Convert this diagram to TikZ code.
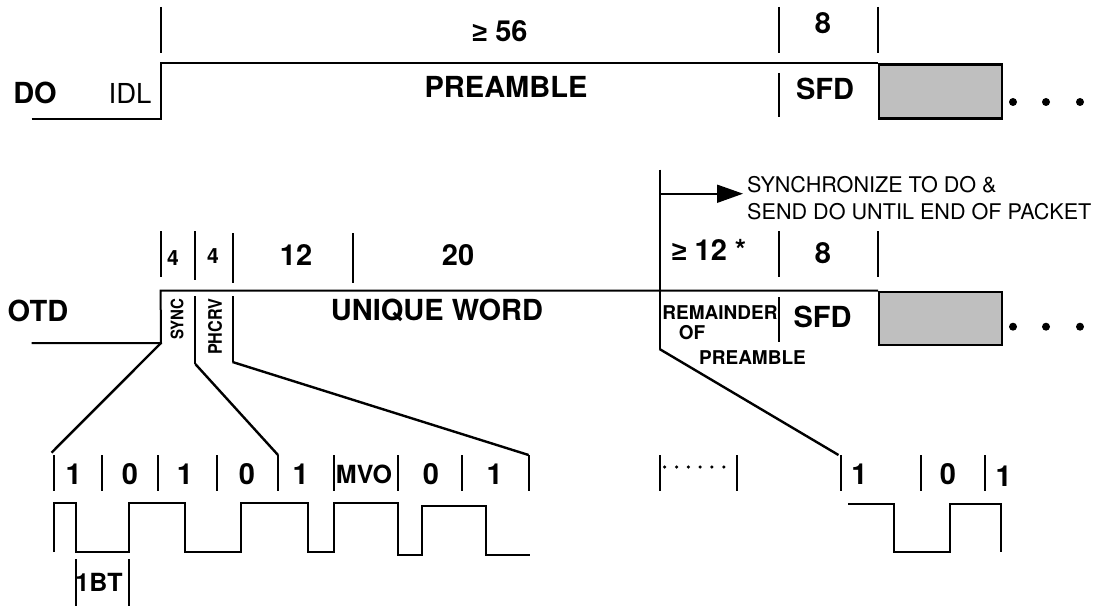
\documentclass[tikz,border=0pt]{standalone}
\usepackage{fontspec}
\setmainfont{TeX Gyre Heros}
\newfontfamily\symf{Liberation Sans}
\newcommand{\fs}[1]{\fontsize{#1}{#1}\selectfont}
\newcommand{\gee}{{\symf\bfseries\fs{27}≥}}
\tikzset{
 ln/.style={line width=2pt,black},
 diag/.style={line width=2.4pt,black},
 big/.style={font=\fs{29}\bfseries,inner sep=0pt,text=black},
 mid/.style={font=\fs{25}\bfseries,inner sep=0pt,text=black},
 small/.style={font=\fs{19}\bfseries,inner sep=0pt,text=black},
 digit/.style={font=\fs{21}\bfseries,inner sep=0pt,text=black},
 plain/.style={font=\fs{21.6},inner sep=0pt,text=black,anchor=west},
 packet/.style={draw=black,line width=2.4pt,fill=black!25!white,inner sep=0pt,minimum width=123pt,anchor=north west},
 dotm/.style={circle,fill=black,inner sep=0pt,minimum size=8pt},
 tiny dot/.style={circle,fill=black,inner sep=0pt,minimum size=3.5pt},
}
\begin{document}
\begin{tikzpicture}[x=1pt,y=-1pt]
\useasboundingbox (0,0) rectangle (1095,607);
% DO row
\draw[ln] (160.6,7) -- (160.6,53.5);
\draw[ln] (779,7) -- (779,53.5);
\draw[ln] (878,7) -- (878,53.5);
\draw[ln] (31.5,119) -- (160.6,119) -- (160.6,63) -- (878,63);
\draw[ln] (779,73) -- (779,117);
\node[packet,minimum height=54pt] (gray1) at (878,63.5) {};
\node[dotm] (d1) at (1013,102) {};
\node[dotm] (d2) at (1046,102) {};
\node[dotm] (d3) at (1080,102) {};
\node[big] (ge56) at (500,31) {\gee\ 56};
\node[big] (eight1) at (823,23) {8};
\node[big] (do) at (35,92.5) {DO};
\node[font=\fs{27.5},inner sep=0pt] (idl) at (130,93) {IDL};
\node[big] (pre1) at (506,87) {PREAMBLE};
\node[big] (sfd1) at (825,89) {SFD};
% sync annotation
\coordinate (synctop) at (659.5,169.5);
\coordinate (syncbot) at (659.5,349);
\draw[ln] (synctop) -- (syncbot);
\node[plain] (s1) at (747,185) {SYNCHRONIZE TO DO \&};
\node[plain] (s2) at (747,212) {SEND DO UNTIL END OF PACKET};
\coordinate (arrstart) at (659.5,193.7);
\coordinate (arrtip) at (743,193.7);
\draw[ln] (arrstart) -- (720,193.7);
\fill[black] (arrtip) -- (717,184.5) -- (717,203) -- cycle;
% OTD row ticks
\draw[ln] (160.6,231) -- (160.6,277);
\draw[ln] (195.3,231) -- (195.3,280);
\draw[ln] (232.5,233) -- (232.5,283);
\draw[ln] (352.7,233) -- (352.7,283);
\draw[ln] (779,231) -- (779,277);
\draw[ln] (878,231) -- (878,277);
\node[digit] (f1) at (173,258) {4};
\node[digit] (f2) at (213,256) {4};
\node[big] (n12) at (296,255) {12};
\node[big] (n20) at (458,255) {20};
\node[big] (ge12) at (709,250) {\gee\ 12 *};
\node[big] (eight2) at (823,252.7) {8};
% OTD signal
\coordinate (lsig) at (161,343);
\draw[ln] (31.5,343) -- (lsig) -- (160.6,290.5) -- (878,290.5);
\draw[ln] (195.3,296) -- (195.3,364);
\draw[ln] (232.5,296) -- (232.5,362);
\draw[ln] (779.4,297) -- (779.4,342);
\node[packet,minimum height=53pt] (gray2) at (878,290.5) {};
\node[dotm] (d4) at (1013,326.7) {};
\node[dotm] (d5) at (1046,326.7) {};
\node[dotm] (d6) at (1080,326.7) {};
\node[big] (otd) at (38,311) {OTD};
\node[big] (uw) at (437,310) {UNIQUE WORD};
\node[font=\fs{15}\bfseries,inner sep=0pt,rotate=90] (sync) at (177,319) {\scalebox{1}[1.15]{SYNC}};
\node[font=\fs{16.2}\bfseries,inner sep=0pt,rotate=90] (phcrv) at (215,326.7) {\scalebox{1}[1.15]{PHCRV}};
\node[small] (rem) at (720,312.7) {REMAINDER};
\node[small] (of) at (692,332.7) {OF};
\node[small] (pre2) at (752.5,357.7) {PREAMBLE};
\node[big] (sfd2) at (822.6,316.7) {SFD};
% fan lines
\coordinate (t5) at (278,455);
\coordinate (t9) at (528.6,455);
\coordinate (b2) at (195.3,364);
\coordinate (b3) at (232.5,362);
\draw[diag] (lsig) -- (51.5,452.7);
\draw[diag] (b2) -- (t5);
\draw[diag] (b3) -- (t9);
\draw[diag] (syncbot) -- (838.5,455);
% bit ticks
\foreach \x in {54,102,158,217,278,334,398,462,528.6,659.5,736.6,840.6,920.5,984.5}
  \draw[ln] (\x,455) -- (\x,491);
\foreach \x/\n/\t in {73.7/a/1,130/b/0,185/c/1,247/d/0,300.6/e/1,431/f/0,494.6/g/1,859.4/h/1,948/i/0}
  \node[big] (bit\n) at (\x,474) {\t};
\node[big] (bitj) at (1003.6,476.7) {1};
\node[mid] (mvo) at (364,474) {MVO};
\foreach \x in {664.7,676.5,688.3,700.1,711.9,723.8}
  \node[tiny dot] at (\x,467) {};
% waveforms
\draw[ln,line join=miter] (54,552) -- (54,503) -- (75.5,503) -- (75.5,551.7) -- (129,551.7) -- (129,503) -- (185,503) -- (185,551.7) -- (241,551.7) -- (241,503) -- (308,503) -- (308,551.7) -- (334,551.7) -- (334,503) -- (398,503) -- (398,554.5) -- (422,554.5) -- (422,506) -- (486,506) -- (486,554.5) -- (530,554.5);
\draw[ln,line join=miter] (848,503.7) -- (894,503.7) -- (894,551.7) -- (950.4,551.7) -- (950.4,503.7) -- (1001,503.7) -- (1001,552);
% 1BT
\draw[ln] (75.5,559) -- (75.5,605.7);
\draw[ln] (129,559) -- (129,605.7);
\node[mid] (bt) at (99,582) {1BT};
\end{tikzpicture}
\end{document}
